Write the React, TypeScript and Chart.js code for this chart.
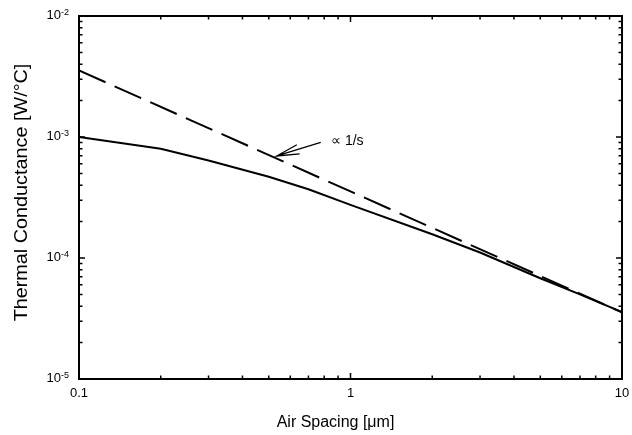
import React, { useEffect, useRef } from "react";
import { Chart, registerables } from "chart.js";

Chart.register(...registerables);

// ---- data ----
const airSpacing = [0.1, 0.2, 0.3, 0.5, 0.7, 1, 2, 3, 5, 7, 10];
const thermalConductance = [1.0e-3, 8.0e-4, 6.4e-4, 4.7e-4, 3.7e-4, 2.75e-4, 1.57e-4, 1.11e-4, 6.8e-5, 5.0e-5, 3.58e-5];
const fitSpacing = [0.1, 1, 10];
const fitConductance = [3.55e-3, 3.55e-4, 3.55e-5];
const xTickValues = [0.1, 1, 10];
const xTickLabels = ["0.1", "1", "10"];
const yTickValues = [1e-5, 1e-4, 1e-3, 1e-2];
const yTickExponents = ["-5", "-4", "-3", "-2"];
const xTitle = "Air Spacing [\u03bcm]";
const yTitle = "Thermal Conductance [W/\u00b0C]";
const noteText = "\u221d 1/s";
const noteAt = [0.848, 8.59e-4];
const arrowFrom = [0.777, 9.04e-4];
const arrowTo = [0.535, 6.97e-4];

const FONT = "'Liberation Sans', Arial, Helvetica, sans-serif";

const decorPlugin = {
  id: "decor",
  afterDatasetsDraw(chart: any) {
    const { ctx, chartArea: a } = chart;
    const xs = chart.scales.x;
    const ys = chart.scales.y;
    ctx.save();
    ctx.strokeStyle = "#000";
    ctx.fillStyle = "#000";

    // ticks (inward, mirrored)
    const minorX: number[] = [];
    for (let d = xs.min; d < xs.max * 0.999; d *= 10) for (let m = 2; m <= 9; m++) minorX.push(d * m);
    const minorY: number[] = [];
    for (let d = ys.min; d < ys.max * 0.999; d *= 10) for (let m = 2; m <= 9; m++) minorY.push(d * m);

    ctx.lineWidth = 1.5;
    ctx.beginPath();
    const xt = (v: number, len: number) => {
      const p = xs.getPixelForValue(v);
      ctx.moveTo(p, a.bottom); ctx.lineTo(p, a.bottom - len);
      ctx.moveTo(p, a.top); ctx.lineTo(p, a.top + len);
    };
    const yt = (v: number, len: number) => {
      const p = ys.getPixelForValue(v);
      ctx.moveTo(a.left, p); ctx.lineTo(a.left + len, p);
      ctx.moveTo(a.right, p); ctx.lineTo(a.right - len, p);
    };
    xTickValues.forEach((v) => xt(v, 6));
    minorX.forEach((v) => xt(v, 3.5));
    yTickValues.forEach((v) => yt(v, 6));
    minorY.forEach((v) => yt(v, 3.5));
    ctx.stroke();

    // frame
    ctx.lineWidth = 2;
    ctx.strokeRect(a.left, a.top, a.right - a.left, a.bottom - a.top);

    // x tick labels
    ctx.font = `13px ${FONT}`;
    ctx.textAlign = "center";
    ctx.textBaseline = "alphabetic";
    xTickLabels.forEach((t, i) => ctx.fillText(t, xs.getPixelForValue(xTickValues[i]), a.bottom + 18));

    // y tick labels with superscript exponent
    yTickValues.forEach((v, i) => {
      const p = ys.getPixelForValue(v);
      ctx.font = `13px ${FONT}`;
      ctx.textAlign = "right";
      ctx.fillText("10", a.left - 18, p + 3);
      ctx.font = `9px ${FONT}`;
      ctx.textAlign = "left";
      ctx.fillText(yTickExponents[i], a.left - 18, p - 1.5);
    });

    // axis titles
    ctx.font = `16px ${FONT}`;
    ctx.textAlign = "center";
    ctx.fillText(xTitle, (a.left + a.right) / 2 - 15, a.bottom + 48);

    ctx.save();
    ctx.translate(26.5, (a.top + a.bottom) / 2 - 5);
    ctx.rotate(-Math.PI / 2);
    ctx.scale(1.1, 1);
    ctx.font = `18px ${FONT}`;
    ctx.textAlign = "center";
    ctx.fillText(yTitle, 0, 0);
    ctx.restore();

    // annotation arrow
    const fx = xs.getPixelForValue(arrowFrom[0]);
    const fy = ys.getPixelForValue(arrowFrom[1]);
    const tx = xs.getPixelForValue(arrowTo[0]);
    const ty = ys.getPixelForValue(arrowTo[1]);
    const ang = Math.atan2(fy - ty, fx - tx);
    const hl = 23;
    const spread = (12 * Math.PI) / 180;
    ctx.lineWidth = 1.3;
    ctx.beginPath();
    ctx.moveTo(fx, fy);
    ctx.lineTo(tx, ty);
    ctx.moveTo(tx + hl * Math.cos(ang - spread), ty + hl * Math.sin(ang - spread));
    ctx.lineTo(tx, ty);
    ctx.lineTo(tx + hl * Math.cos(ang + spread), ty + hl * Math.sin(ang + spread));
    ctx.stroke();

    ctx.font = `14px ${FONT}`;
    ctx.textAlign = "left";
    ctx.fillText(noteText, xs.getPixelForValue(noteAt[0]), ys.getPixelForValue(noteAt[1]));

    ctx.restore();
  },
};

export default function App() {
  const ref = useRef<HTMLCanvasElement | null>(null);
  useEffect(() => {
    if (!ref.current) return;
    const chart = new Chart(ref.current, {
      type: "line",
      data: {
        datasets: [
          {
            label: "Thermal conductance",
            data: airSpacing.map((x, i) => ({ x, y: thermalConductance[i] })),
            borderColor: "#000",
            borderWidth: 2,
            pointRadius: 0,
            tension: 0,
            fill: false,
          },
          {
            label: "1/s",
            data: fitSpacing.map((x, i) => ({ x, y: fitConductance[i] })),
            borderColor: "#000",
            borderWidth: 2,
            borderDash: [29, 10],
            pointRadius: 0,
            tension: 0,
            fill: false,
          },
        ],
      },
      options: {
        animation: false,
        responsive: true,
        maintainAspectRatio: false,
        events: [],
        layout: { padding: { left: 0, right: 10, top: 16, bottom: 0 } },
        plugins: { legend: { display: false }, tooltip: { enabled: false } },
        scales: {
          x: {
            type: "logarithmic",
            min: 0.1,
            max: 10,
            grid: { display: false },
            border: { display: false },
            ticks: { display: false },
            afterFit: (s: any) => { s.height = 56; },
          },
          y: {
            type: "logarithmic",
            min: 1e-5,
            max: 1e-2,
            grid: { display: false },
            border: { display: false },
            ticks: { display: false },
            afterFit: (s: any) => { s.width = 79; },
          },
        },
      },
      plugins: [decorPlugin],
    } as any);
    return () => chart.destroy();
  }, []);
  return (
    <div style={{ position: "fixed", left: 0, top: 0, width: 632, height: 435, background: "#fff" }}>
      <canvas ref={ref} />
    </div>
  );
}
